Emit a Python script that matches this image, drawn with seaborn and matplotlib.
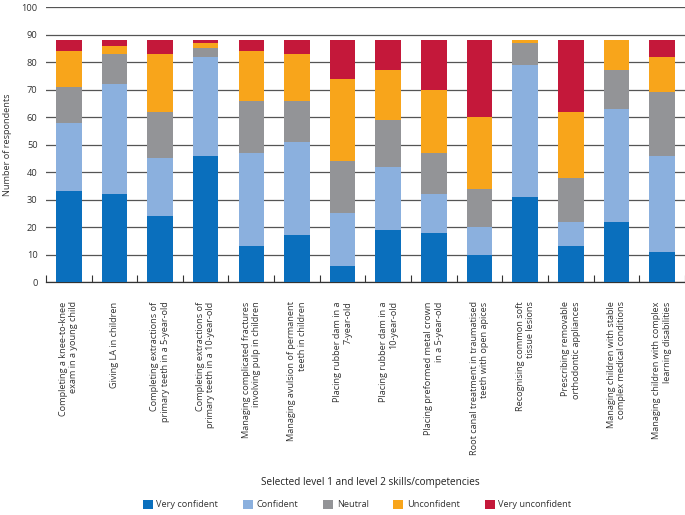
import numpy as np
import pandas as pd
import matplotlib.pyplot as plt
import seaborn as sns
from matplotlib.patches import Patch

# ─── DATA ───────────────────────────────────────────────────────────────────────
skills = [
    "Completing a knee-to-knee\nexam in a young child",
    "Giving LA in children",
    "Completing extractions of\nprimary teeth in a 5-year-old",
    "Completing extractions of\nprimary teeth in a 10-year-old",
    "Managing complicated fractures\ninvolving pulp in children",
    "Managing avulsion of permanent\nteeth in children",
    "Placing rubber dam in a\n7-year-old",
    "Placing rubber dam in a\n10-year-old",
    "Placing preformed metal crown\nin a 5-year-old",
    "Root canal treatment in traumatised\nteeth with open apices",
    "Recognising common soft\ntissue lesions",
    "Prescribing removable\northodontic appliances",
    "Managing children with stable\ncomplex medical conditions",
    "Managing children with complex\nlearning disabilities",
]
levels = ["Very confident", "Confident", "Neutral", "Unconfident", "Very unconfident"]

very_confident   = [33, 32, 24, 46, 13, 17, 6, 19, 18, 10, 31, 13, 22, 11]
confident        = [25, 40, 21, 36, 34, 34, 19, 23, 14, 10, 48, 9, 41, 35]
neutral          = [13, 11, 17, 3, 19, 15, 19, 17, 15, 14, 8, 16, 14, 23]
unconfident      = [13, 3, 21, 2, 18, 17, 30, 18, 23, 26, 1, 24, 11, 13]
very_unconfident = [4, 2, 5, 1, 4, 5, 14, 11, 18, 28, 0, 26, 0, 6]

colors = ["#0a6fbd", "#8bb0de", "#939497", "#f8a51b", "#c4183a"]

# ─── FIGURE ─────────────────────────────────────────────────────────────────────
plt.rcParams['font.family'] = ['Open Sans', 'DejaVu Sans']
fig = plt.figure(figsize=(6.85, 5.15), dpi=100)
ax = fig.add_axes([0.067, 0.4524, 0.933, 0.534])

series = [very_confident, confident, neutral, unconfident, very_unconfident]
cum = np.cumsum(np.array(series), axis=0)
df = pd.DataFrame({"skill": skills})

# draw cumulative totals from the top layer down so each layer covers the next
for i in range(len(levels) - 1, -1, -1):
    df["value"] = cum[i]
    sns.barplot(data=df, x="skill", y="value", color=colors[i], width=0.56,
                saturation=1, ax=ax, zorder=3, linewidth=0)

ax.set_xlim(-0.5, len(skills) - 0.5)
ax.set_ylim(0, 100)
ax.set_yticks(range(0, 101, 10))
ax.yaxis.grid(True, color="#555555", linewidth=0.9)
ax.set_axisbelow(True)
for s in ["left", "right", "top"]:
    ax.spines[s].set_visible(False)
ax.spines["bottom"].set_color("#333333")
ax.spines["bottom"].set_linewidth(0.9)

ax.tick_params(axis="y", length=0, labelsize=6.7, pad=6, labelcolor="#333333")
ax.set_xticks(range(len(skills)))
ax.set_xticklabels(skills, rotation=90, ha="center", va="top",
                   multialignment="right", fontsize=6.6, color="#333333")
ax.tick_params(axis="x", which="major", length=0, pad=14)
ax.set_xticks(np.arange(-0.5, len(skills), 1), minor=True)
ax.tick_params(axis="x", which="minor", direction="in", length=5, width=0.8,
               color="#333333")

ax.set_ylabel("Number of respondents", fontsize=6.6, color="#333333", labelpad=7)
ax.set_xlabel("")
fig.text(0.54, 0.064, "Selected level 1 and level 2 skills/competencies",
         ha="center", va="center", fontsize=7.2, color="#222222")

handles = [Patch(facecolor=c, edgecolor="none") for c in colors]
fig.legend(handles, levels, loc="center", bbox_to_anchor=(0.521, 0.02), ncol=5,
           frameon=False, fontsize=6.6, handlelength=1.1, handleheight=1.1,
           handletextpad=0.4, columnspacing=2.7, labelcolor="#333333")

fig.savefig("out.png", dpi=100)
